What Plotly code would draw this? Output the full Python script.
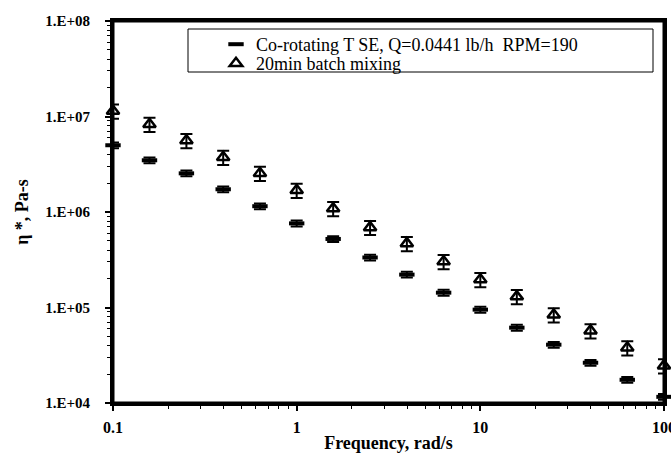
import plotly.graph_objects as go

freq = [0.1, 0.158, 0.251, 0.398, 0.631, 1.0, 1.58, 2.51, 3.98, 6.31, 10.0, 15.8, 25.1, 39.8, 63.1, 100.0]
eta_tse = [5.0e6, 3.48e6, 2.54e6, 1.73e6, 1.15e6, 7.6e5, 5.22e5, 3.34e5, 2.21e5, 1.43e5,
           9.5e4, 6.15e4, 4.08e4, 2.64e4, 1.75e4, 1.16e4]
eta_batch = [1.14e7, 8.3e6, 5.6e6, 3.74e6, 2.54e6, 1.69e6, 1.09e6, 6.9e5, 4.69e5, 3.03e5,
             1.96e5, 1.30e5, 8.4e4, 5.72e4, 3.79e4, 2.46e4]
err_tse_pct = 7
err_batch_pct = 17

y_tickvals = [1e4, 1e5, 1e6, 1e7, 1e8]
y_ticktext = ["1.E+04", "1.E+05", "1.E+06", "1.E+07", "1.E+08"]
x_tickvals = [0.1, 1, 10, 100]
x_ticktext = ["0.1", "1", "10", "100"]

serif = "Liberation Serif, Times New Roman, serif"

fig = go.Figure()
fig.add_trace(go.Scatter(
    x=freq, y=eta_tse, mode="markers",
    name="Co-rotating T SE, Q=0.0441 lb/h  RPM=190",
    marker=dict(symbol="line-ew", size=11, color="black", line=dict(color="black", width=4)),
    error_y=dict(type="percent", value=err_tse_pct, color="black", thickness=2, width=6),
    cliponaxis=False, legend="legend",
))
fig.add_trace(go.Scatter(
    x=freq, y=eta_batch, mode="markers",
    name="20min batch mixing",
    marker=dict(symbol="triangle-up-open", size=11, color="black", line=dict(color="black", width=2.5)),
    error_y=dict(type="percent", value=err_batch_pct, color="black", thickness=2, width=6),
    cliponaxis=False, legend="legend2",
))

legend_common = dict(
    xanchor="left", yanchor="top", bgcolor="rgba(0,0,0,0)", borderwidth=0,
    font=dict(family=serif, size=18, color="black"), itemwidth=30,
)
fig.update_layout(
    width=671, height=456,
    margin=dict(l=113, r=7, t=21, b=53, autoexpand=False),
    paper_bgcolor="white", plot_bgcolor="white",
    font=dict(family=serif, color="black"),
    showlegend=True,
    legend=dict(x=(216 - 113) / 551, y=(403 - 26) / 382, **legend_common),
    legend2=dict(x=(216 - 113) / 551, y=(403 - 45) / 382, **legend_common),
    shapes=[
        dict(type="rect", xref="paper", yref="paper",
             x0=(188 - 113) / 551, x1=(653 - 113) / 551,
             y0=(403 - 72) / 382, y1=(403 - 29) / 382,
             line=dict(color="black", width=1), fillcolor="rgba(0,0,0,0)"),
        dict(type="rect", xref="paper", yref="paper", x0=0, x1=1, y0=0, y1=1,
             line=dict(color="black", width=3), fillcolor="rgba(0,0,0,0)", layer="above"),
    ],
)

axis_common = dict(
    ticks="outside", ticklen=5, tickwidth=1.5, tickcolor="black",
    showline=True, linewidth=3, linecolor="black", mirror=True,
    showgrid=False, zeroline=False, automargin=False,
    ticklabeloverflow="allow",
)

fig.update_xaxes(
    type="log", range=[-1, 2],
    tickvals=x_tickvals, ticktext=x_ticktext,
    tickfont=dict(family=serif, size=16, weight="bold"),
    ticklabelstandoff=3,
    minor=dict(ticks="outside", ticklen=3, tickwidth=1, tickcolor="black", dtick="D1", showgrid=False),
    title=dict(text="Frequency, rad/s", font=dict(family=serif, size=18, weight="bold"), standoff=2),
    **axis_common,
)
fig.update_yaxes(
    type="log", range=[4, 8],
    tickvals=y_tickvals, ticktext=y_ticktext,
    tickfont=dict(family=serif, size=15, weight="bold"),
    ticklabelstandoff=12,
    minor=dict(ticks="outside", ticklen=3, tickwidth=1, tickcolor="black", dtick="D1", showgrid=False),
    title=dict(text="η *, Pa-s", font=dict(family=serif, size=18, weight="bold"), standoff=12),
    **axis_common,
)

fig.write_html("out.html", config={"displayModeBar": False},
               post_script="document.body.style.margin='0';")
